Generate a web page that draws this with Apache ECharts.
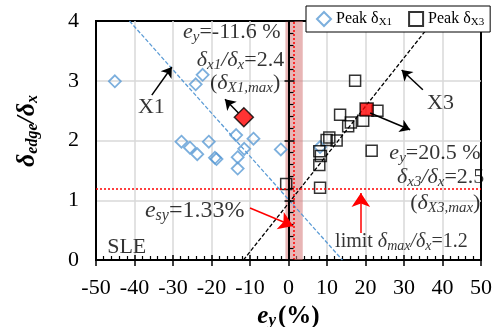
<!DOCTYPE html>
<html>
<head>
<meta charset="utf-8">
<script src="https://cdn.jsdelivr.net/npm/echarts@6/dist/echarts.min.js"></script>
<style>
  html, body { margin: 0; padding: 0; background: #fff; }
  #chart { width: 503px; height: 327px; }
</style>
</head>
<body>
<div id="chart"></div>
<script>
// peak edge drift ratio vs yield eccentricity
const peakX1 = [
  [-45.1, 2.99], [-24.1, 2.94], [-22.3, 3.10], [-27.8, 1.98], [-25.6, 1.88],
  [-23.7, 1.77], [-20.7, 1.98], [-19.1, 1.71], [-18.7, 1.69], [-13.6, 2.09],
  [-9.1, 2.03], [-11.5, 1.86], [-13.2, 1.72], [-13.2, 1.53], [-2.0, 1.85],
  [8.2, 1.89]
];
const peakX3 = [
  [17.3, 3.00], [13.4, 2.43], [23.1, 2.50], [19.4, 2.33], [16.2, 2.30],
  [15.5, 2.24], [10.6, 2.05], [12.5, 2.00], [9.9, 2.01], [8.0, 1.82],
  [8.4, 1.74], [8.0, 1.59], [8.2, 1.21], [21.6, 1.83], [-0.6, 1.27]
];
const maxX1 = [[-11.6, 2.39]];
const maxX3 = [[20.3, 2.52]];
const trendX1 = [[-41.3, 4], [14, 0]];
const trendX3 = [[-11.7, 0], [37.6, 4]];
const yieldBand = [-0.8, 3.7];
const yieldStrain = 1.33;
const limitRatio = 1.2;
const xRange = [-50, 50, 10];
const yRange = [0, 4, 1];

const serif = 'Liberation Serif';

function textSet(size) {
  return {
    n: { fontFamily: serif, fontSize: size, color: '#000' },
    i: { fontFamily: serif, fontSize: size, fontStyle: 'italic', color: '#000' },
    s: { fontFamily: serif, fontSize: Math.round(size * 0.68), fontStyle: 'italic', color: '#000',
         padding: [Math.round(size * 0.46), 0, 0, 0] }
  };
}

function note(at, text, size) {
  return {
    value: at,
    label: { show: true, formatter: text, position: 'right', distance: 0, rich: textSet(size || 22) }
  };
}

const notes = [
  note([-27.4, 3.82], '{i|e}{s|y}{n|=-11.6 %}'),
  note([-23.8, 3.35], '{i|δ}{s|x1}{i|/δ}{s|x}{n|=2.4}'),
  note([-20.4, 2.96], '{n|(}{i|δ}{s|X1,max}{n|)}'),
  note([-39.1, 2.56], '{n|X1}'),
  note([36.0, 2.63], '{n|X3}'),
  note([26.2, 1.79], '{i|e}{s|y}{n|=20.5 %}'),
  note([28.2, 1.39], '{i|δ}{s|x3}{i|/δ}{s|x}{n|=2.5}'),
  note([31.6, 0.95], '{n|(}{i|δ}{s|X3,max}{n|)}'),
  note([12.1, 0.30], '{n|limit }{i|δ}{s|max}{i|/δ}{s|x}{n|=1.2}', 20),
  note([-37.3, 0.83], '{i|e}{s|sy}{n|=1.33%}', 24),
  note([-47.1, 0.22], '{n|SLE}')
];

const blackArrows = [
  [[-35.5, 2.76], [-30.3, 3.23]],
  [[-13.0, 2.46], [-16.5, 2.69]],
  [[34.9, 2.85], [29.4, 3.18]],
  [[21.2, 2.46], [31.6, 2.18]]
];
const redArrows = [
  [[-10, 0.87], [1.2, 0.57]],
  [[18.8, 0.45], [18.8, 1.12]]
];

const chart = echarts.init(document.getElementById('chart'));

const axisText = { fontFamily: serif, fontSize: 22, color: '#000' };
const gridLine = { lineStyle: { color: '#d9d9d9', width: 1.5 }, showMinLine: false, showMaxLine: false };

chart.setOption({
  animation: false,
  textStyle: { fontFamily: serif },
  grid: {
    left: 96, right: 22, top: 21, bottom: 67,
    outerBoundsMode: 'none',
    show: true, borderColor: '#000', borderWidth: 2, backgroundColor: 'transparent'
  },
  legend: {
    data: ['Peak δX1', 'Peak δX3'],
    left: 306, top: 6,
    padding: [5, 6, 4, 10],
    itemGap: 16, itemWidth: 14, itemHeight: 14,
    borderColor: '#000', borderWidth: 1, backgroundColor: '#fff',
    formatter: name => name === 'Peak δX1' ? 'Peak δ{s|X1}' : 'Peak δ{s|X3}',
    textStyle: {
      fontFamily: serif, fontSize: 16, color: '#000',
      rich: { s: { fontFamily: serif, fontSize: 11, color: '#000', padding: [7, 0, 0, 0] } }
    }
  },
  xAxis: [{
    type: 'value', min: xRange[0], max: xRange[1], interval: xRange[2],
    axisLine: { onZero: false, lineStyle: { color: '#000', width: 2 } },
    axisTick: { inside: true, length: 5, lineStyle: { color: '#000', width: 1.5 } },
    minorTick: { show: true, splitNumber: 5, length: 4, lineStyle: { color: '#000', width: 1.2 } },
    axisLabel: Object.assign({ margin: 17 }, axisText),
    splitLine: gridLine,
    name: '{bi|e}{bs|y}{b|(%)}',
    nameLocation: 'middle',
    nameGap: 41,
    nameTextStyle: {
      rich: {
        bi: { fontFamily: serif, fontSize: 25, fontWeight: 'bold', fontStyle: 'italic', color: '#000' },
        bs: { fontFamily: serif, fontSize: 17, fontWeight: 'bold', fontStyle: 'italic', color: '#000', padding: [8, 2, 0, 0] },
        b: { fontFamily: serif, fontSize: 25, fontWeight: 'bold', color: '#000' }
      }
    }
  }, {
    // crossing major ticks under the bottom axis
    type: 'value', min: xRange[0], max: xRange[1], interval: xRange[2], position: 'top',
    axisLine: { show: false, onZero: true, onZeroAxisIndex: 0 },
    axisTick: { inside: true, length: 6, lineStyle: { color: '#000', width: 1.5 } },
    axisLabel: { show: false },
    splitLine: { show: false }
  }],
  yAxis: [{
    type: 'value', min: yRange[0], max: yRange[1], interval: yRange[2], position: 'left',
    axisLine: { onZero: false, lineStyle: { color: '#000', width: 2 } },
    axisTick: { show: false },
    axisLabel: Object.assign({ margin: 17 }, axisText),
    splitLine: gridLine
  }, {
    // axis through e_y = 0
    type: 'value', min: yRange[0], max: yRange[1], interval: yRange[2], position: 'left', z: 5,
    axisLine: { onZero: true, onZeroAxisIndex: 0, lineStyle: { color: '#000', width: 2 } },
    axisTick: { inside: true, length: 6, lineStyle: { color: '#000', width: 1.5 } },
    minorTick: { show: true, splitNumber: 5, length: 5, lineStyle: { color: '#000', width: 1.2 } },
    axisLabel: { show: false },
    splitLine: { show: false }
  }, {
    type: 'value', min: yRange[0], max: yRange[1], interval: yRange[2], position: 'left', z: 5,
    axisLine: { show: false, onZero: true, onZeroAxisIndex: 0 },
    axisTick: { inside: false, length: 4, lineStyle: { color: '#000', width: 1.5 } },
    axisLabel: { show: false },
    splitLine: { show: false }
  }],
  graphic: [{
    type: 'text',
    x: 27, y: 131,
    rotation: Math.PI / 2,
    style: {
      text: '{b|δ}{s|edge}{b|/δ}{s|x}',
      align: 'center', verticalAlign: 'middle',
      rich: {
        b: { fontFamily: serif, fontSize: 26, fontWeight: 'bold', fontStyle: 'italic', fill: '#000' },
        s: { fontFamily: serif, fontSize: 16, fontWeight: 'bold', fontStyle: 'italic', fill: '#000', padding: [11, 0, 0, 0] }
      }
    }
  }],
  series: [{
    name: 'trendX1', type: 'line', data: trendX1, symbol: 'none', silent: true,
    lineStyle: { color: '#5b9bd5', width: 1.3, type: [4, 2] },
    markArea: {
      silent: true,
      itemStyle: { color: 'rgba(214,120,120,0.55)' },
      data: [[{ xAxis: yieldBand[0] }, { xAxis: yieldBand[1] }]]
    },
    markLine: {
      silent: true, symbol: 'none', label: { show: false },
      lineStyle: { color: '#ff0000', type: [2, 2], width: 1.5 },
      data: [{ xAxis: yieldStrain }, { yAxis: limitRatio }]
    }
  }, {
    name: 'trendX3', type: 'line', data: trendX3, symbol: 'none', silent: true,
    lineStyle: { color: '#000', width: 1.3, type: [4, 2] }
  }, {
    name: 'Peak δX1', type: 'scatter', data: peakX1, symbol: 'diamond', symbolSize: 12,
    itemStyle: { color: 'rgba(255,255,255,0)', borderColor: '#5b9bd5', borderWidth: 1.8 }
  }, {
    name: 'Peak δX3', type: 'scatter', data: peakX3, symbol: 'rect', symbolSize: 11,
    itemStyle: { color: 'rgba(255,255,255,0)', borderColor: '#000', borderWidth: 1.5 }
  }, {
    name: 'maxX1', type: 'scatter', data: maxX1, symbol: 'diamond', symbolSize: 19, z: 4,
    itemStyle: { color: '#ff0000', borderColor: '#000', borderWidth: 1.5 }
  }, {
    name: 'maxX3', type: 'scatter', data: maxX3, symbol: 'rect', symbolSize: 13, z: 4,
    itemStyle: { color: '#ff0000', borderColor: '#000', borderWidth: 1.5 }
  }, {
    type: 'lines', coordinateSystem: 'cartesian2d', silent: true, z: 6,
    symbol: ['none', 'arrow'], symbolSize: 10,
    lineStyle: { color: '#000', width: 1.5, opacity: 1 },
    data: blackArrows.map(c => ({ coords: c }))
  }, {
    type: 'lines', coordinateSystem: 'cartesian2d', silent: true, z: 6,
    symbol: ['none', 'arrow'], symbolSize: 14,
    lineStyle: { color: '#ff0000', width: 1.5, opacity: 1 },
    data: redArrows.map(c => ({ coords: c }))
  }, {
    type: 'scatter', silent: true, symbolSize: 0, z: 7,
    data: notes
  }]
});
</script>
</body>
</html>
